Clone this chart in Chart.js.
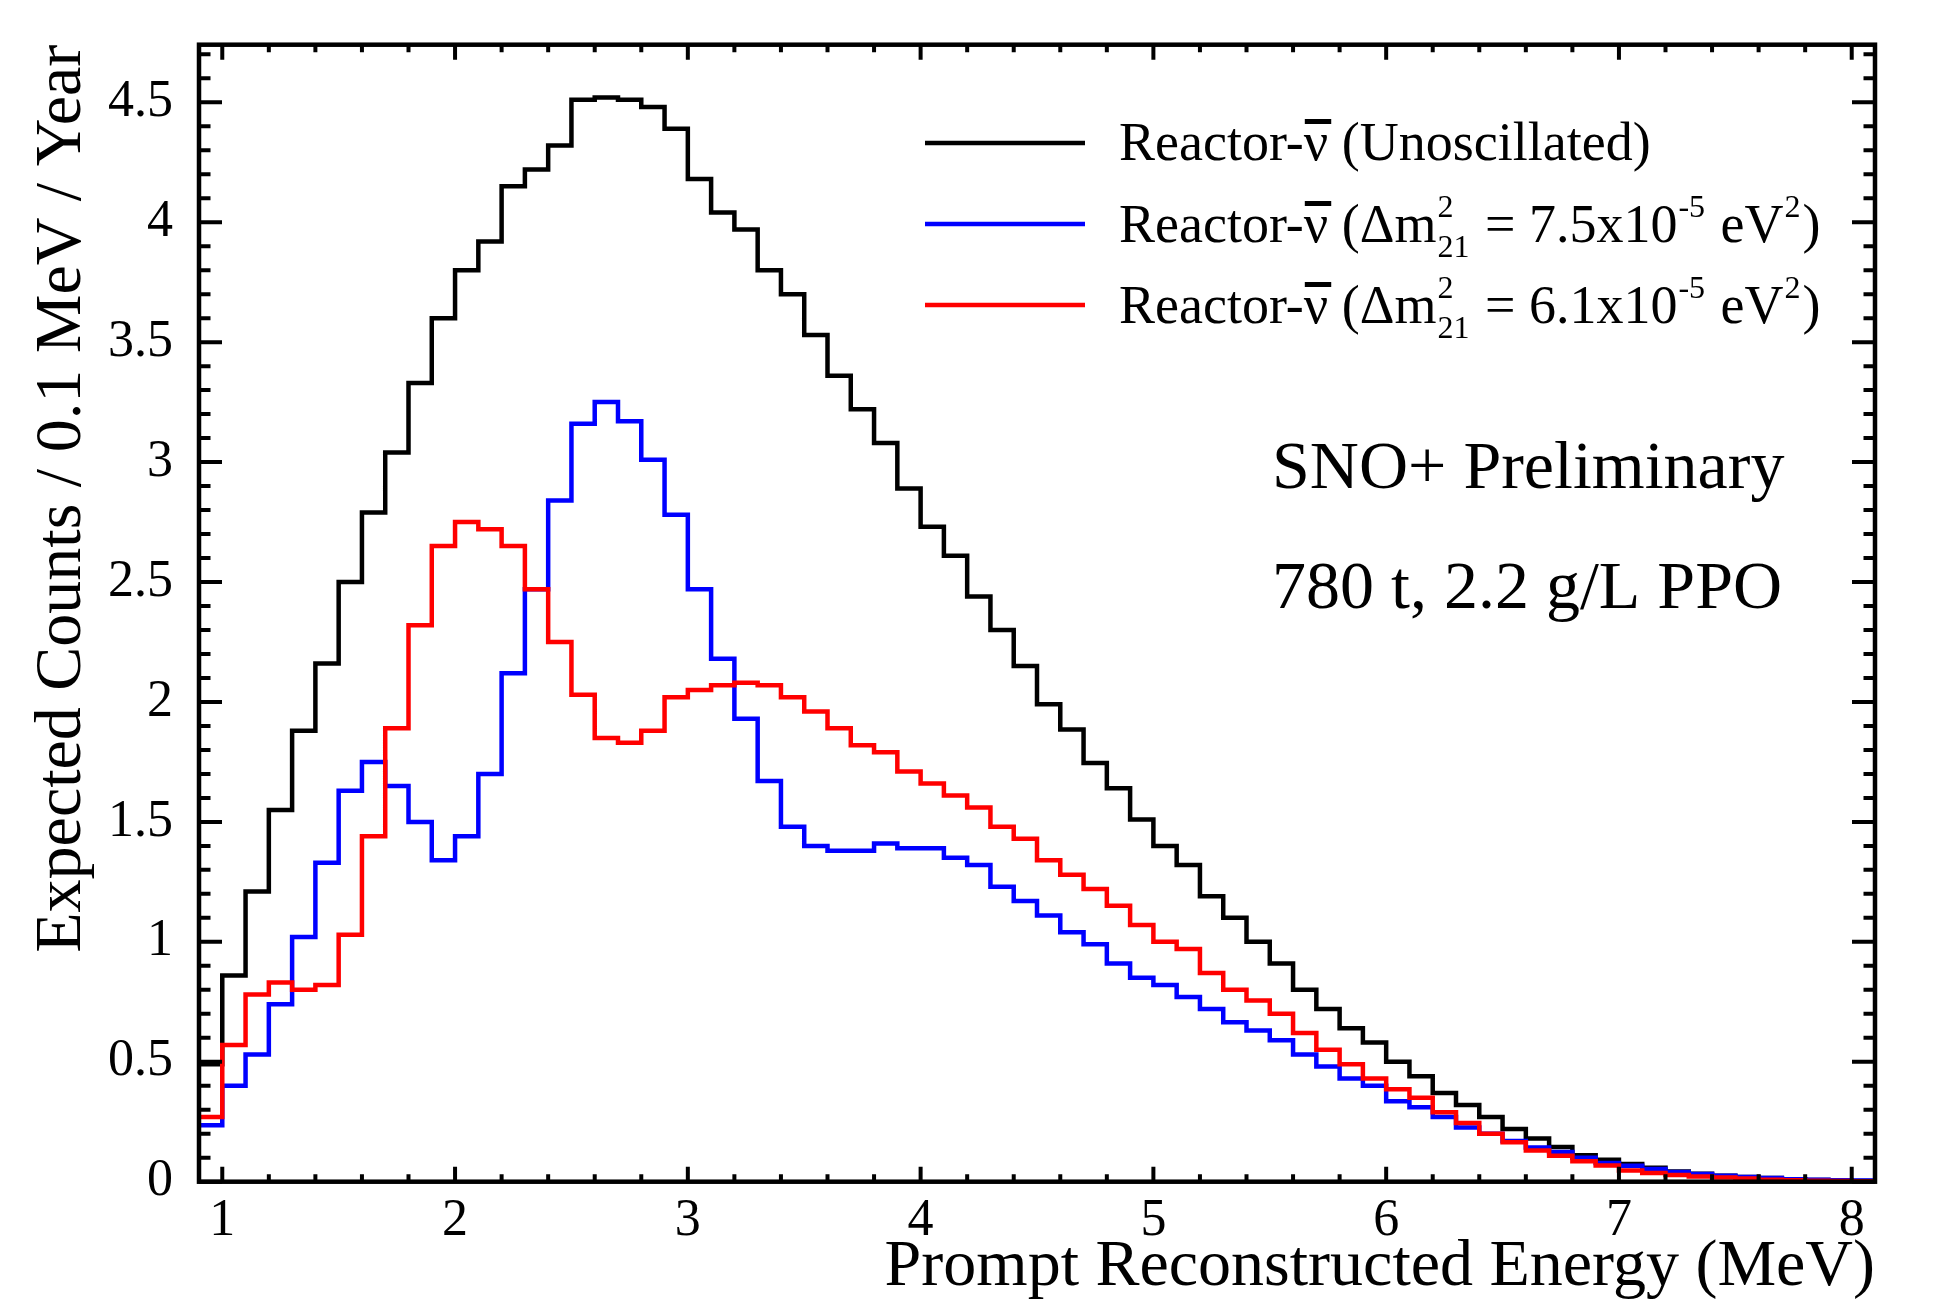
<!DOCTYPE html>
<html><head><meta charset="utf-8">
<script src="https://cdn.jsdelivr.net/npm/chart.js@4.4.1/dist/chart.umd.min.js"></script>
<style>html,body{margin:0;padding:0;background:#fff;overflow:hidden}#wrap{width:1933px;height:1312px;position:relative}</style>
</head><body><div id="wrap"><canvas id="c" width="1933" height="1312"></canvas></div>
<script>
// Bin edges (MeV), 0.1 MeV bins
const binEdges = [0.9,1.0,1.1,1.2,1.3,1.4,1.5,1.6,1.7,1.8,1.9,
  2.0,2.1,2.2,2.3,2.4,2.5,2.6,2.7,2.8,2.9,
  3.0,3.1,3.2,3.3,3.4,3.5,3.6,3.7,3.8,3.9,
  4.0,4.1,4.2,4.3,4.4,4.5,4.6,4.7,4.8,4.9,
  5.0,5.1,5.2,5.3,5.4,5.5,5.6,5.7,5.8,5.9,
  6.0,6.1,6.2,6.3,6.4,6.5,6.6,6.7,6.8,6.9,
  7.0,7.1,7.2,7.3,7.4,7.5,7.6,7.7,7.8,7.9,
  8.0,8.1];

const unoscillated = [0.49,0.86,1.21,1.55,1.88,2.16,2.50,2.79,3.04,3.33,3.60,
  3.80,3.92,4.15,4.22,4.32,4.51,4.52,4.51,4.48,4.39,
  4.18,4.04,3.97,3.80,3.70,3.53,3.36,3.22,3.08,2.89,
  2.73,2.61,2.44,2.30,2.15,1.99,1.885,1.745,1.64,1.51,
  1.40,1.32,1.19,1.10,1.00,0.91,0.80,0.72,0.64,0.58,
  0.50,0.44,0.37,0.32,0.27,0.22,0.18,0.145,0.11,0.092,
  0.074,0.058,0.043,0.033,0.025,0.02,0.015,0.01,0.007,0.005,
  0.003];

const dm2_75 = [0.235,0.40,0.53,0.74,1.02,1.33,1.63,1.75,1.65,1.50,1.34,
  1.44,1.70,2.12,2.47,2.84,3.16,3.25,3.17,3.01,2.78,
  2.47,2.18,1.93,1.67,1.48,1.40,1.38,1.38,1.41,1.39,
  1.39,1.35,1.32,1.23,1.17,1.11,1.04,0.99,0.91,0.85,
  0.82,0.77,0.72,0.665,0.63,0.59,0.53,0.48,0.43,0.40,
  0.335,0.31,0.27,0.226,0.20,0.17,0.143,0.124,0.10,0.078,
  0.067,0.053,0.04,0.032,0.025,0.02,0.015,0.01,0.008,0.006,
  0.005];

const dm2_61 = [0.27,0.57,0.78,0.83,0.80,0.82,1.03,1.44,1.89,2.32,2.65,
  2.75,2.72,2.65,2.47,2.25,2.03,1.85,1.83,1.88,2.02,
  2.05,2.07,2.08,2.07,2.02,1.96,1.89,1.82,1.79,1.71,
  1.66,1.61,1.56,1.48,1.43,1.34,1.28,1.22,1.15,1.07,
  1.00,0.97,0.87,0.80,0.755,0.70,0.62,0.55,0.49,0.43,
  0.385,0.35,0.29,0.245,0.20,0.164,0.13,0.108,0.085,0.068,
  0.047,0.036,0.028,0.022,0.017,0.013,0.008,0.006,0.004,0.003,
  0.002];

const xTickValues = [1,2,3,4,5,6,7,8];
const xTickLabels = ['1','2','3','4','5','6','7','8'];
const yTickValues = [0,0.5,1,1.5,2,2.5,3,3.5,4,4.5];
const yTickLabels = ['0','0.5','1','1.5','2','2.5','3','3.5','4','4.5'];

const X_MIN = 0.9, X_MAX = 8.1, Y_MIN = 0, Y_MAX = 4.74;
const FONT = '"Liberation Serif", "Times New Roman", serif';

function histPoints(vals){
  const pts = vals.map((v,i)=>({x: binEdges[i], y: v}));
  pts.push({x: binEdges[vals.length], y: vals[vals.length-1]});
  return pts;
}

// Frame + ROOT-style inner ticks on all four sides
const framePlugin = {
  id: 'frame',
  afterDatasetsDraw(chart){
    const {ctx, chartArea: a, scales: {x, y}} = chart;
    ctx.save();
    ctx.strokeStyle = '#000';
    ctx.lineWidth = 4;
    ctx.lineCap = 'butt';
    ctx.beginPath();
    for (let i = 0; i <= 35; i++) {
      const v = 1 + i * 0.2;
      if (v > X_MAX + 1e-9) break;
      const px = x.getPixelForValue(v);
      const major = Math.abs(v - Math.round(v)) < 1e-6;
      const L = major ? 15 : 7.5;
      ctx.moveTo(px, a.bottom); ctx.lineTo(px, a.bottom - L);
      ctx.moveTo(px, a.top); ctx.lineTo(px, a.top + L);
    }
    for (let i = 0; i <= 47; i++) {
      const v = i * 0.1;
      if (v > Y_MAX + 1e-9) break;
      const py = y.getPixelForValue(v);
      const major = Math.abs(v*2 - Math.round(v*2)) < 1e-6;
      const L = major ? 23 : 11.5;
      ctx.moveTo(a.left, py); ctx.lineTo(a.left + L, py);
      ctx.moveTo(a.right, py); ctx.lineTo(a.right - L, py);
    }
    ctx.stroke();
    ctx.lineWidth = 4.5;
    ctx.strokeRect(a.left, a.top, a.right - a.left, a.bottom - a.top);
    ctx.restore();
  }
};

// Legend with TLatex-like sub/superscripts, and annotation text
const seriesColors = ['#000000', '#0000ff', '#ff0000'];
const legendRows = [
  [{t:'Reactor-'},{nu:true},{t:' (Unoscillated)'}],
  [{t:'Reactor-'},{nu:true},{t:' (\u0394m'},{sup:'2', sub:'21'},{t:' = 7.5x10'},{sup:'-5'},{t:' eV'},{sup:'2'},{t:')'}],
  [{t:'Reactor-'},{nu:true},{t:' (\u0394m'},{sup:'2', sub:'21'},{t:' = 6.1x10'},{sup:'-5'},{t:' eV'},{sup:'2'},{t:')'}]
];
const annotations = ['SNO+ Preliminary', '780 t, 2.2 g/L PPO'];

const textPlugin = {
  id: 'texts',
  afterDraw(chart){
    const ctx = chart.ctx;
    ctx.save();
    const main = 54, small = 32;
    const lineY = [143, 224, 305];
    const baseY = [160, 242, 323];
    ctx.textBaseline = 'alphabetic';
    ctx.textAlign = 'left';
    legendRows.forEach((row, r) => {
      ctx.strokeStyle = seriesColors[r];
      ctx.lineWidth = 4.5;
      ctx.beginPath(); ctx.moveTo(925, lineY[r]); ctx.lineTo(1085, lineY[r]); ctx.stroke();
      let xx = 1119; const by = baseY[r];
      ctx.fillStyle = '#000';
      row.forEach(seg => {
        if (seg.t !== undefined) {
          ctx.font = main + 'px ' + FONT;
          ctx.fillText(seg.t, xx, by);
          xx += ctx.measureText(seg.t).width;
        } else if (seg.nu) {
          ctx.font = main + 'px ' + FONT;
          const w = ctx.measureText('\u03bd').width;
          ctx.fillText('\u03bd', xx, by);
          ctx.fillRect(xx + 1, by - 41, w + 2, 5);
          xx += w;
        } else {
          ctx.font = small + 'px ' + FONT;
          let w = 0;
          if (seg.sup) { ctx.fillText(seg.sup, xx + 1, by - 25); w = Math.max(w, ctx.measureText(seg.sup).width); }
          if (seg.sub) { ctx.fillText(seg.sub, xx + 1, by + 15); w = Math.max(w, ctx.measureText(seg.sub).width); }
          xx += w + 3;
        }
      });
    });
    ctx.font = '68px ' + FONT;
    ctx.fillStyle = '#000';
    ctx.fillText(annotations[0], 1272, 488);
    ctx.fillText(annotations[1], 1272, 608);
    ctx.restore();
  }
};

new Chart(document.getElementById('c'), {
  type: 'line',
  data: {
    datasets: [
      {label: 'Reactor-\u03bd\u0304 (Unoscillated)', data: histPoints(unoscillated), borderColor: seriesColors[0], order: 3},
      {label: 'Reactor-\u03bd\u0304 (\u0394m\u00b2\u2082\u2081 = 7.5x10\u207b\u2075 eV\u00b2)', data: histPoints(dm2_75), borderColor: seriesColors[1], order: 2},
      {label: 'Reactor-\u03bd\u0304 (\u0394m\u00b2\u2082\u2081 = 6.1x10\u207b\u2075 eV\u00b2)', data: histPoints(dm2_61), borderColor: seriesColors[2], order: 1}
    ].map(d => Object.assign(d, {borderWidth: 4.5, pointRadius: 0, stepped: 'before', fill: false, tension: 0}))
  },
  options: {
    responsive: false,
    devicePixelRatio: 1,
    animation: false,
    events: [],
    layout: {padding: {left: 0, right: 58, top: 44.7, bottom: 0}},
    plugins: {legend: {display: false}, tooltip: {enabled: false}},
    scales: {
      x: {
        type: 'linear', min: X_MIN, max: X_MAX,
        grid: {display: false, drawTicks: false},
        border: {display: false},
        afterBuildTicks: s => { s.ticks = xTickValues.map(v => ({value: v})); },
        afterFit: s => { s.height = 1312 - 1181.7; s.paddingLeft = 0; s.paddingRight = 0; },
        ticks: {
          autoSkip: false, maxRotation: 0, padding: 8, color: '#000',
          font: {family: FONT, size: 52},
          callback: v => xTickLabels[xTickValues.indexOf(v)]
        },
        title: {display: true, text: 'Prompt Reconstructed Energy (MeV)', align: 'end', color: '#000',
          font: {family: FONT, size: 66}, padding: {top: 0, bottom: 5}}
      },
      y: {
        type: 'linear', min: Y_MIN, max: Y_MAX,
        grid: {display: false, drawTicks: false},
        border: {display: false},
        afterBuildTicks: s => { s.ticks = yTickValues.map(v => ({value: v})); },
        afterFit: s => { s.width = 199; s.paddingTop = 0; s.paddingBottom = 0; },
        ticks: {
          autoSkip: false, padding: 26, color: '#000',
          font: {family: FONT, size: 52},
          callback: v => yTickLabels[yTickValues.indexOf(v)]
        },
        title: {display: true, text: 'Expected Counts / 0.1 MeV / Year', align: 'end', color: '#000',
          font: {family: FONT, size: 66}, padding: {top: 23, bottom: 0}}
      }
    }
  },
  plugins: [framePlugin, textPlugin]
});
</script>
</body></html>
